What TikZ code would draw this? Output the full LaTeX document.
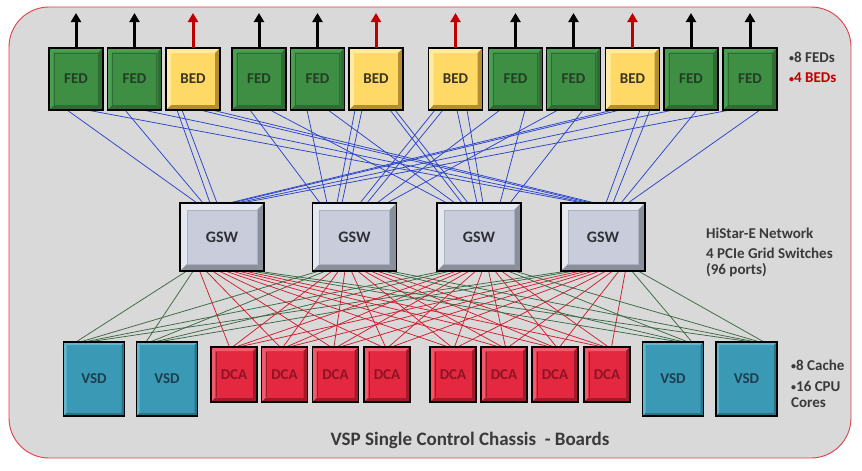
\documentclass[tikz,border=0pt]{standalone}
\usepackage{fontspec}
\setmainfont{Carlito}
\usetikzlibrary{arrows.meta,calc}
\definecolor{bgc}{HTML}{D9D9D9}
\definecolor{bgline}{HTML}{E0404A}
\definecolor{fedg}{HTML}{3E8E43}
\definecolor{fedlt}{HTML}{4C9E51}
\definecolor{feddk}{HTML}{2E6C32}
\definecolor{fedt}{HTML}{223E24}
\definecolor{bedy}{HTML}{FFD966}
\definecolor{bedlt}{HTML}{FFEAA0}
\definecolor{beddk}{HTML}{B38D2E}
\definecolor{bedt}{HTML}{3A3320}
\definecolor{gswf}{HTML}{C9CDDB}
\definecolor{gswlt}{HTML}{E6E8EF}
\definecolor{gswdk}{HTML}{8A8F9E}
\definecolor{gswt}{HTML}{2E3038}
\definecolor{vsdf}{HTML}{3A9AB6}
\definecolor{vsdlt}{HTML}{63B7CC}
\definecolor{vsddk}{HTML}{2A7288}
\definecolor{vsdt}{HTML}{1E3E4C}
\definecolor{dcaf}{HTML}{E4283F}
\definecolor{dcalt}{HTML}{F05A6B}
\definecolor{dcadk}{HTML}{A01A2A}
\definecolor{dcat}{HTML}{8E1423}
\definecolor{blueln}{HTML}{2A44CC}
\definecolor{redln}{HTML}{D21E2E}
\definecolor{greenln}{HTML}{3A6A42}
\definecolor{darkred}{HTML}{C00000}
\definecolor{labt}{HTML}{3A3A3A}
\pgfdeclarelayer{bg}
\pgfsetlayers{bg,main}
\newcommand\bevbox[4]{%
 \fill[#3] (#1.north west) -- (#1.north east) -- ([xshift=-#2pt,yshift=-#2pt]#1.north east) -- ([xshift=#2pt,yshift=-#2pt]#1.north west) -- cycle;
 \fill[#3] (#1.north west) -- ([xshift=#2pt,yshift=-#2pt]#1.north west) -- ([xshift=#2pt,yshift=#2pt]#1.south west) -- (#1.south west) -- cycle;
 \fill[#4] (#1.south west) -- (#1.south east) -- ([xshift=-#2pt,yshift=#2pt]#1.south east) -- ([xshift=#2pt,yshift=#2pt]#1.south west) -- cycle;
 \fill[#4] (#1.north east) -- (#1.south east) -- ([xshift=-#2pt,yshift=#2pt]#1.south east) -- ([xshift=-#2pt,yshift=-#2pt]#1.north east) -- cycle;
}
\newcommand\innerframe[3]{%
 \draw[#3,line width=0.7pt] ([xshift=#2pt,yshift=-#2pt]#1.north west) rectangle ([xshift=-#2pt,yshift=#2pt]#1.south east);
}
\newcommand\boxborder[1]{\draw[line width=1.6pt,black] (#1.north west) rectangle (#1.south east);}
\newcommand\smbul{{\fontsize{10}{10}\selectfont\raisebox{0.5pt}{•}}}
\begin{document}
\begin{tikzpicture}[x=1pt,y=-1pt,
  box/.style={inner sep=0pt,outer sep=0pt,font=\bfseries\fontsize{15}{15}\selectfont},
  fed/.style={box,fill=fedg,text=fedt,minimum width=54pt,minimum height=62pt},
  bed/.style={box,fill=bedy,text=bedt,minimum width=54pt,minimum height=62pt},
  gsw/.style={box,fill=gswf,text=gswt,minimum width=84pt,minimum height=68pt,font=\bfseries\fontsize{16}{16}\selectfont},
  vsd/.style={box,fill=vsdf,text=vsdt,minimum width=61pt,minimum height=74pt},
  dca/.style={box,fill=dcaf,text=dcat,minimum width=46pt,minimum height=55pt},
  bline/.style={blueln,line width=0.75pt},
  rline/.style={redln,line width=0.75pt},
  gline/.style={greenln,line width=0.75pt},
  uparr/.style={line width=3pt,-{Triangle[width=10pt,length=9pt]}},
  lab/.style={anchor=west,inner sep=0pt,text=labt,font=\bfseries\fontsize{15}{15}\selectfont},
  ]
\useasboundingbox (0,0) rectangle (862,471);
\begin{pgfonlayer}{bg}
\fill[white] (0,0) rectangle (862,471);
\draw[bgline,fill=bgc,line width=0.9pt,rounded corners=40pt] (9,7) rectangle (851,458);
\end{pgfonlayer}
% top row
\node[fed] (T1) at (76,79) {FED};
\node[fed] (T2) at (134.5,79) {FED};
\node[bed] (T3) at (193,79) {BED};
\node[fed] (T4) at (259,79) {FED};
\node[fed] (T5) at (317.5,79) {FED};
\node[bed] (T6) at (376,79) {BED};
\node[bed] (T7) at (455.5,79) {BED};
\node[fed] (T8) at (515.5,79) {FED};
\node[fed] (T9) at (573.5,79) {FED};
\node[bed] (T10) at (632.5,79) {BED};
\node[fed] (T11) at (691,79) {FED};
\node[fed] (T12) at (750,79) {FED};
% switches
\node[gsw] (G1) at (222,237) {GSW};
\node[gsw] (G2) at (354.5,237) {GSW};
\node[gsw] (G3) at (479,237) {GSW};
\node[gsw] (G4) at (603,237) {GSW};
% bottom row
\node[vsd] (B1) at (94,379) {VSD};
\node[vsd] (B2) at (167,379) {VSD};
\node[dca] (B3) at (234,374.5) {DCA};
\node[dca] (B4) at (284.5,374.5) {DCA};
\node[dca] (B5) at (335.5,374.5) {DCA};
\node[dca] (B6) at (387,374.5) {DCA};
\node[dca] (B7) at (453,374.5) {DCA};
\node[dca] (B8) at (504,374.5) {DCA};
\node[dca] (B9) at (555,374.5) {DCA};
\node[dca] (B10) at (607,374.5) {DCA};
\node[vsd] (B11) at (673,379) {VSD};
\node[vsd] (B12) at (746.5,379) {VSD};
% decorations
\foreach \n in {T1,T2,T4,T5,T8,T9,T11,T12}{\bevbox{\n}{4}{fedlt}{feddk}\innerframe{\n}{5}{feddk}\boxborder{\n}}
\foreach \n in {T3,T6,T7,T10}{\bevbox{\n}{5}{bedlt}{beddk}\boxborder{\n}}
\foreach \n in {G1,G2,G3,G4}{\bevbox{\n}{7}{gswlt}{gswdk}\innerframe{\n}{7}{gswdk!70}\boxborder{\n}}
\foreach \n in {B1,B2,B11,B12}{\bevbox{\n}{3}{vsdlt}{vsddk}\boxborder{\n}}
\foreach \n in {B3,B4,B5,B6,B7,B8,B9,B10}{\bevbox{\n}{4}{dcalt}{dcadk}\draw[dcadk,line width=1pt] ([xshift=5pt,yshift=-5pt]\n.north west) -- ([xshift=5pt,yshift=5pt]\n.south west);\boxborder{\n}}
% upward arrows
\foreach \n in {T1,T2,T4,T5,T8,T9,T11,T12}{\draw[uparr,black] (\n.north) -- ++(0,-35);}
\foreach \n in {T3,T6,T7,T10}{\draw[uparr,darkred] (\n.north) -- ++(0,-35);}
% links top row to switches
\begin{pgfonlayer}{bg}
\foreach \s/\ds/\g/\dg in {
 1/-9/1/-25, 1/11/4/-20,
 2/-9.5/1/-19, 2/8.5/4/-16,
 3/-16/1/-12, 3/-11/1/-5, 3/7/4/-12, 3/19/4/-8,
 4/-9/2/-34.5, 4/11/3/-32,
 5/-10.5/2/-27.5, 5/10.5/3/-24,
 6/-21/2/-17.5, 6/-14/2/-12.5, 6/14/3/-17, 6/19/3/-11,
 7/-20.5/2/5.5, 7/-12.5/2/12.5, 7/1.5/3/-2, 7/11.5/3/4,
 8/-15.5/2/22.5, 8/9.5/3/21,
 9/-15.5/2/32.5, 9/9.5/3/31,
 10/-19.5/1/7, 10/-12.5/1/10, 10/7.5/4/3, 10/17.5/4/10,
 11/-18/1/15, 11/6/4/18,
 12/-20/1/20, 12/10/4/25}
 {\draw[bline] ([xshift=\ds pt]T\s.south) -- ([xshift=\dg pt]G\g.north);}
% links switches to bottom row
\foreach \b/\base/\sp/\st in {1/-12/4/gline,2/-15/4/gline,3/0/3/rline,4/0/3/rline,5/0/3/rline,6/0/3/rline,7/0/3/rline,8/0/3/rline,9/0/3/rline,10/0/3/rline,11/13/4/gline,12/11.5/4/gline}
 {\foreach \g in {1,...,4}
   {\draw[\st] ([xshift={\base+(\g-2.5)*\sp}]B\b.north) -- ([xshift={(\b-6.5)*6.4}]G\g.south);}}
\end{pgfonlayer}
% labels
\node[lab] (L1) at (789,57) {\smbul 8 FEDs};
\node[lab,text=darkred] (L2) at (789,78) {\smbul 4 BEDs};
\node[lab] (H1) at (706,233) {HiStar-E Network};
\node[lab] (H2) at (706,253) {4 PCIe Grid Switches};
\node[lab] (H3) at (706,270) {(96 ports)};
\node[lab] (C1) at (791,365) {\smbul 8 Cache};
\node[lab] (C2) at (791,386) {\smbul 16 CPU};
\node[lab] (C3) at (791,403) {Cores};
\node[inner sep=0pt,text=labt,font=\bfseries\fontsize{19}{19}\selectfont] (TT) at (470,440) {VSP Single Control Chassis \ - Boards};
\end{tikzpicture}
\end{document}
